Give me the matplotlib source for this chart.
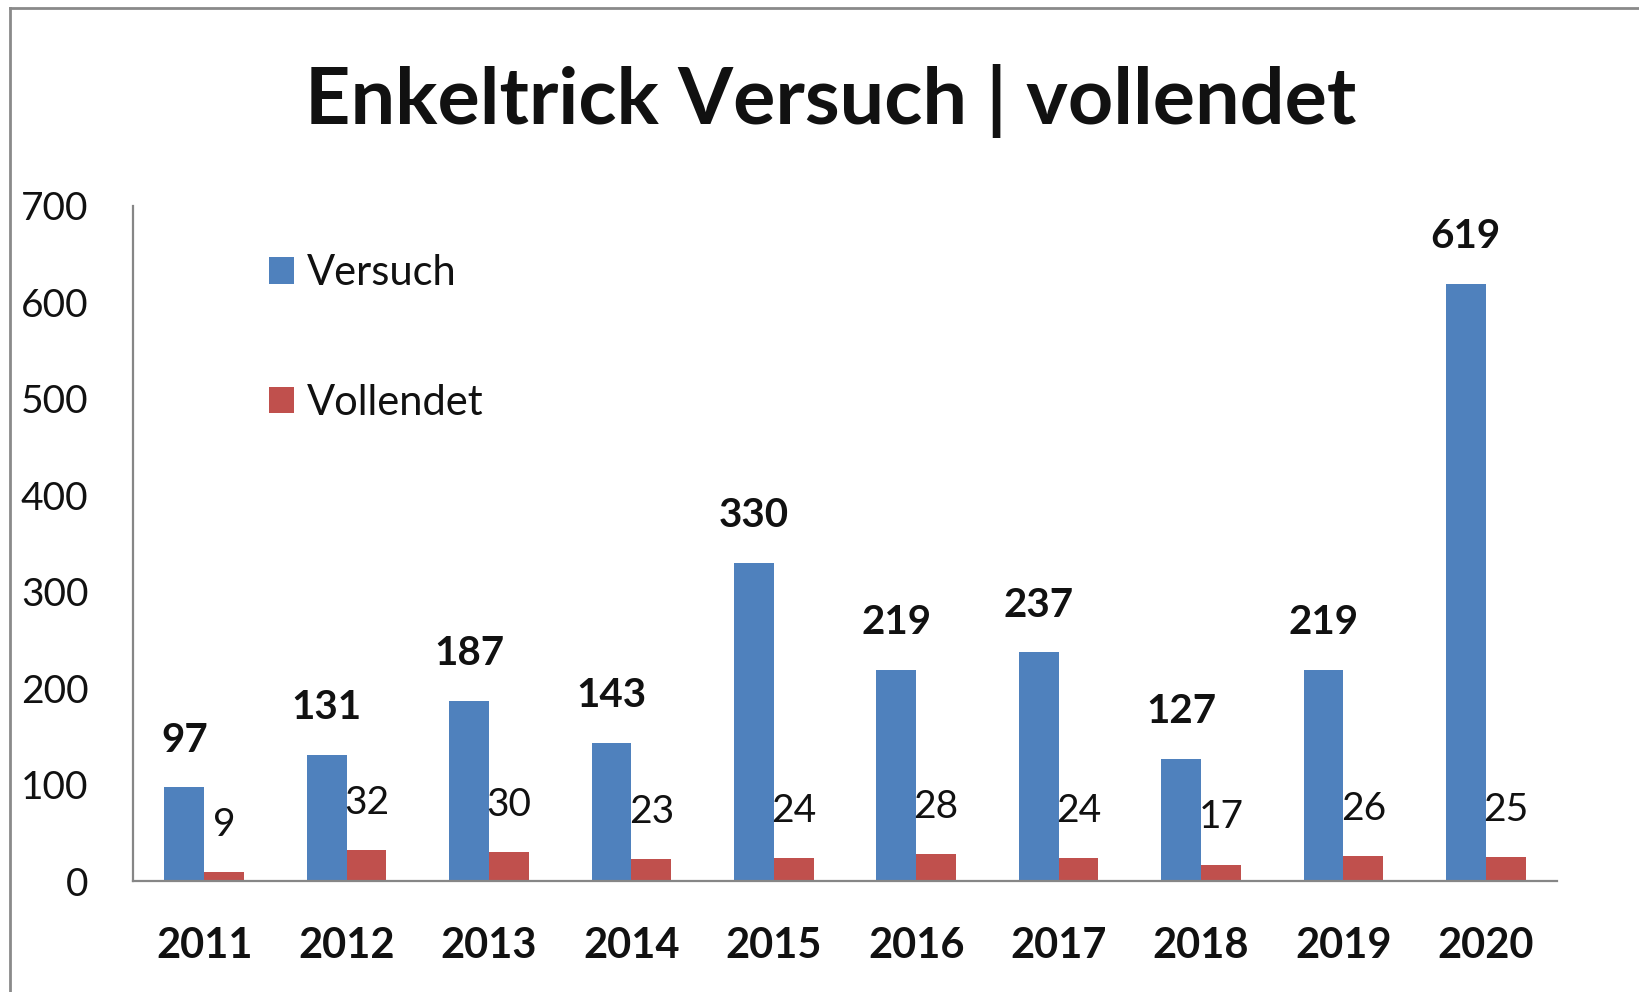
import matplotlib
matplotlib.use('Agg')
import numpy as np
import matplotlib.pyplot as plt
from matplotlib.lines import Line2D

years = ['2011', '2012', '2013', '2014', '2015', '2016', '2017', '2018', '2019', '2020']
versuch = [97, 131, 187, 143, 330, 219, 237, 127, 219, 619]
vollendet = [9, 32, 30, 23, 24, 28, 24, 17, 26, 25]

blue = '#4F81BD'
red = '#C0504D'
grey = '#868686'

plt.rcParams['font.family'] = ['Lato', 'DejaVu Sans']
plt.rcParams['text.color'] = '#111111'

fig = plt.figure(figsize=(16.39, 9.92), dpi=100)
ax = fig.add_axes([133 / 1639, 1 - 881 / 992, (1557 - 133) / 1639, (881 - 206) / 992])

x = np.arange(len(years))
w = 0.28
ax.bar(x - w / 2, versuch, w, color=blue, label='Versuch')
ax.bar(x + w / 2, vollendet, w, color=red, label='Vollendet')

for xi, v in zip(x, versuch):
    ax.annotate(str(v), (xi - w / 2, v), xytext=(0, 34), textcoords='offset points',
                ha='center', va='center', fontsize=29, fontweight='bold')
for xi, v in zip(x, vollendet):
    ax.annotate(str(v), (xi + w / 2, v), xytext=(0, 34), textcoords='offset points',
                ha='center', va='center', fontsize=28)

ax.set_xlim(-0.5, len(years) - 0.5)
ax.set_ylim(0, 700)
ax.set_yticks(range(0, 701, 100))
ax.set_xticks(x)
ax.set_xticklabels(years, fontsize=30, fontweight='bold')
ax.tick_params(axis='y', length=0, pad=32, labelsize=28, labelcolor='#111111')
ax.tick_params(axis='x', length=0, pad=33, labelcolor='#111111')

for s in ['top', 'right']:
    ax.spines[s].set_visible(False)
for s in ['left', 'bottom']:
    ax.spines[s].set_color(grey)
    ax.spines[s].set_linewidth(1.6)

ax.legend(loc='center left', bbox_to_anchor=(269 / 1639, 1 - 338 / 992),
          bbox_transform=fig.transFigure, frameon=False, fontsize=30,
          handlelength=0.6, handleheight=0.6, handletextpad=0.3,
          labelspacing=2.2, borderpad=0, borderaxespad=0)

fig.text(831 / 1639, 1 - 101 / 992, 'Enkeltrick Versuch | vollendet',
         ha='center', va='center', fontsize=57, fontweight='bold')

# outer frame (cropped screenshot: only left and top edges visible)
fig.add_artist(Line2D([10 / 1639, 10 / 1639], [0, 1 - 8 / 992], transform=fig.transFigure,
                      color='#8a8a8a', linewidth=2))
fig.add_artist(Line2D([10 / 1639, 1], [1 - 8 / 992, 1 - 8 / 992], transform=fig.transFigure,
                      color='#8a8a8a', linewidth=2))

fig.savefig('out.png', dpi=100)
